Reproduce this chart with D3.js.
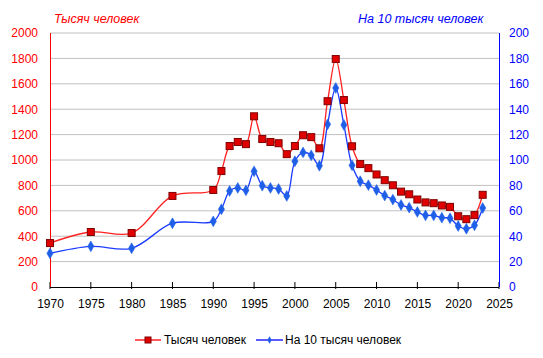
<!DOCTYPE html>
<html><head><meta charset="utf-8">
<script src="https://cdn.jsdelivr.net/npm/d3@7"></script>
<style>body{margin:0;background:#fff}svg{display:block}text{font-family:"Liberation Sans",Arial,sans-serif}</style>
</head><body><svg id="c" width="543" height="358"></svg>
<script>
const years = [1970,1975,1980,1985,1990,1991,1992,1993,1994,1995,1996,1997,1998,1999,2000,2001,2002,2003,2004,2005,2006,2007,2008,2009,2010,2011,2012,2013,2014,2015,2016,2017,2018,2019,2020,2021,2022,2023];
const thousands = [346,433,425,717,764,913,1110,1142,1125,1344,1165,1142,1132,1046,1110,1195,1180,1092,1463,1795,1472,1108,968,936,886,841,801,751,730,689,666,660,642,631,557,534,566,726];
const per10k = [26.5,32,30.5,50.2,51.7,61.2,75.6,78,76.1,91.1,79.8,78,77.2,71.7,99,106,103.7,95.5,128.1,156.7,127.6,95.8,83.3,80.2,76.4,72,68.8,64.6,62.5,59.1,56.4,56.4,54.6,54.1,48,45.9,48.6,62.2];
const xTicks = [1970,1975,1980,1985,1990,1995,2000,2005,2010,2015,2020,2025];
const leftTicks = [0,200,400,600,800,1000,1200,1400,1600,1800,2000];
const rightTicks = [0,20,40,60,80,100,120,140,160,180,200];
const titleLeft = "Тысяч человек", titleRight = "На 10 тысяч человек";

const svg = d3.select("#c");
const L=50,R=499,T=33,B=287;
const x = d3.scaleLinear().domain([1970,2025]).range([L,R]);
const yL = d3.scaleLinear().domain([0,2000]).range([B,T]);
const yR = d3.scaleLinear().domain([0,200]).range([B,T]);

// gridlines
svg.append("g").selectAll("line").data(leftTicks.filter(d=>d>0)).join("line")
  .attr("x1",L).attr("x2",R).attr("y1",d=>yL(d)).attr("y2",d=>yL(d))
  .attr("stroke","#c0c0c0").attr("stroke-width",1);

// x axis
const gx = svg.append("g").attr("transform",`translate(0,${B})`)
  .call(d3.axisBottom(x).tickValues(xTicks).tickFormat(d3.format("d")).tickSize(0).tickPadding(12));
gx.select(".domain").remove();
gx.selectAll("text").attr("font-size",12).attr("fill","#000");
svg.append("g").selectAll("line").data(xTicks).join("line")
  .attr("x1",d=>x(d)).attr("x2",d=>x(d)).attr("y1",B-5).attr("y2",B+2).attr("stroke","#000");
svg.append("line").attr("x1",L).attr("x2",R).attr("y1",B+0.5).attr("y2",B+0.5).attr("stroke","#000");

// left axis
const gl = svg.append("g").attr("transform",`translate(${L},0)`)
  .call(d3.axisLeft(yL).tickValues(leftTicks).tickFormat(d3.format("d")).tickSize(0).tickPadding(12));
gl.select(".domain").remove();
gl.selectAll("text").attr("font-size",12).attr("fill","#ff0000");
svg.append("line").attr("x1",L+0.5).attr("x2",L+0.5).attr("y1",T).attr("y2",B).attr("stroke","#ff0000");

// right axis
const gr = svg.append("g").attr("transform",`translate(${R},0)`)
  .call(d3.axisRight(yR).tickValues(rightTicks).tickFormat(d3.format("d")).tickSize(0).tickPadding(10));
gr.select(".domain").remove();
gr.selectAll("text").attr("font-size",12).attr("fill","#0000ff");
svg.append("line").attr("x1",R+0.5).attr("x2",R+0.5).attr("y1",T).attr("y2",B).attr("stroke","#0000ff");

const curve = d3.curveCatmullRom.alpha(0.5);
// blue series
const blueLine = d3.line().x((d,i)=>x(years[i])).y(d=>yR(d)).curve(curve);
svg.append("path").attr("d",blueLine(per10k)).attr("fill","none").attr("stroke","#1a3cff").attr("stroke-width",1.3);
const diamond = d3.symbol().type(d3.symbolDiamond).size(34);
svg.append("g").selectAll("path").data(per10k).join("path")
  .attr("transform",(d,i)=>`translate(${x(years[i])},${yR(d)})`)
  .attr("d",diamond).attr("fill","#1f5fe8").attr("stroke","#1f5fe8").attr("stroke-width",0.5);

// red series
const redLine = d3.line().x((d,i)=>x(years[i])).y(d=>yL(d)).curve(curve);
svg.append("path").attr("d",redLine(thousands)).attr("fill","none").attr("stroke","#ff2020").attr("stroke-width",1.3);
svg.append("g").selectAll("rect").data(thousands).join("rect")
  .attr("x",(d,i)=>x(years[i])-3.5).attr("y",d=>yL(d)-3.5).attr("width",7).attr("height",7)
  .attr("fill","#e00000").attr("stroke","#800000").attr("stroke-width",1);

// titles
svg.append("text").attr("x",54).attr("y",23).attr("font-size",12.5).attr("font-style","italic").attr("fill","#ff0000").text(titleLeft);
svg.append("text").attr("x",358).attr("y",23).attr("font-size",12.5).attr("font-style","italic").attr("fill","#0000ff").text(titleRight);

// legend
const ly=340;
svg.append("line").attr("x1",135).attr("x2",161).attr("y1",ly).attr("y2",ly).attr("stroke","#ff0000").attr("stroke-width",1.3);
svg.append("rect").attr("x",145).attr("y",ly-3).attr("width",6).attr("height",6).attr("fill","#e00000").attr("stroke","#800000");
svg.append("text").attr("x",164).attr("y",ly+4).attr("font-size",12).attr("fill","#000").text(titleLeft);
svg.append("line").attr("x1",256).attr("x2",283).attr("y1",ly).attr("y2",ly).attr("stroke","#0000ff").attr("stroke-width",1.3);
svg.append("path").attr("transform",`translate(269.5,${ly})`).attr("d",d3.symbol().type(d3.symbolDiamond).size(16)).attr("fill","#1f5fe8");
svg.append("text").attr("x",285).attr("y",ly+4).attr("font-size",12).attr("fill","#000").text(titleRight);
</script></body></html>
